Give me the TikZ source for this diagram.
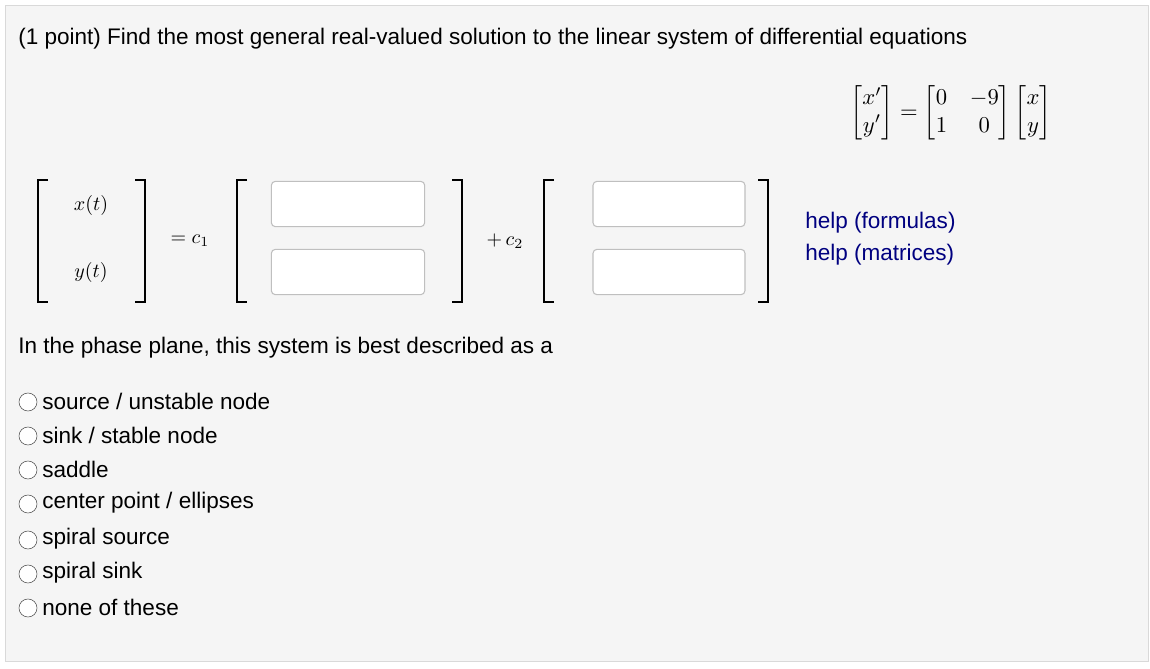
\documentclass[tikz,border=0pt]{standalone}
\usepackage{amsmath}
\usepackage{fontspec}
\setmainfont{Liberation Sans}
\begin{document}
\begin{tikzpicture}[x=0.75pt,y=-0.75pt,
  txt/.style={anchor=west,inner sep=0pt,font=\fontsize{16.9pt}{18pt}\selectfont},
  lnk/.style={txt,text=blue!50!black},
  mth/.style={inner sep=0pt},
  inbox/.style={draw=black!25,line width=0.8pt,rounded corners=3pt,fill=white},
  brk/.style={line width=1pt},
  radio/.style={draw=black!70,circle,minimum size=13.5pt,inner sep=0pt,fill=white}]
\useasboundingbox (0,0) rectangle (1150,668);
\draw[fill=black!4,draw=black!15] (5,5) rectangle (1148,661);
\node[txt] (t1) at (18,39) {(1 point) Find the most general real-valued solution to the linear system of differential equations};
% top equation
\node[mth] (eq) at (951,113) {\scalebox{1.7}{$\begin{bmatrix} x'\\ y'\end{bmatrix} = \begin{bmatrix}0 & -9\\ 1 & 0\end{bmatrix}\begin{bmatrix}x\\ y\end{bmatrix}$}};
% brackets
\foreach \a/\b in {38/145,237/462,544/768}{
  \draw[brk] (\a+10,180) -- (\a,180) -- (\a,302) -- (\a+10,302);
  \draw[brk] (\b-10,180) -- (\b,180) -- (\b,302) -- (\b-10,302);}
\node[mth] (xt) at (91,205) {\scalebox{1.5}{$x(t)$}};
\node[mth] (yt) at (91,272) {\scalebox{1.5}{$y(t)$}};
\node[mth] (c1) at (190,241) {\scalebox{1.5}{$= c_1$}};
\node[mth] (c2) at (505,241) {\scalebox{1.5}{$+\, c_2$}};
\node[inbox,minimum width=115pt,minimum height=34pt] (b1) at (348,204) {};
\node[inbox,minimum width=115pt,minimum height=34pt] (b2) at (348,272) {};
\node[inbox,minimum width=114pt,minimum height=34pt] (b3) at (669,204) {};
\node[inbox,minimum width=114pt,minimum height=34pt] (b4) at (669,272) {};
\node[lnk] (h1) at (805,223) {help (formulas)};
\node[lnk] (h2) at (805,255) {help (matrices)};
\node[txt] (q) at (18,348) {In the phase plane, this system is best described as a};
\foreach \y/\s [count=\i] in {401/{source / unstable node},435/{sink / stable node},469/{saddle},503/{center point / ellipses},539/{spiral source},573/{spiral sink},607/{none of these}}{
  \node[radio] (r\i) at (28,\y+1) {};
  \node[txt] (o\i) at (42,\y) {\s};}
\end{tikzpicture}
\end{document}
